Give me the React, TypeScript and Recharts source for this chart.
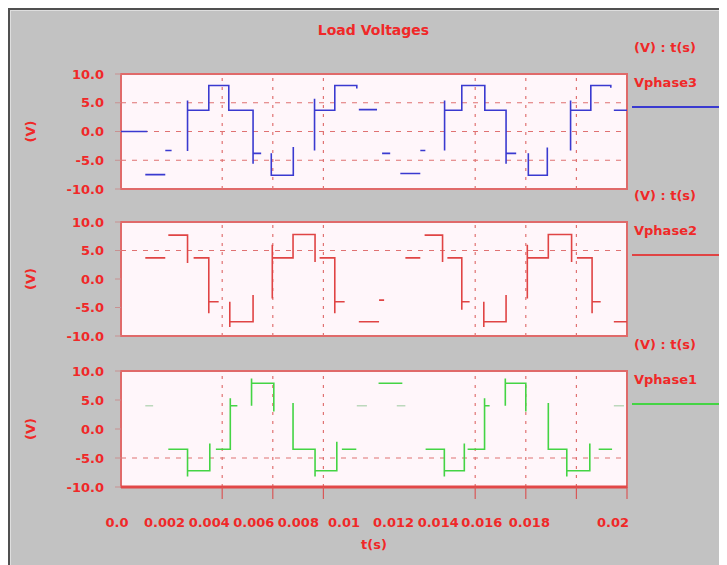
import React from 'react';
import {
  LineChart,
  Line,
  XAxis,
  YAxis,
  CartesianGrid,
  ReferenceLine,
  ReferenceArea,
  Legend
} from 'recharts';

// Each run is a stepped piece of the waveform: [time in ms, volts] at every level change.
// Runs are drawn separately, so the gaps between them stay open.
type Run = [number, number][];

const vphase3Runs: Run[] = [
  [[0, 0], [1.04, 0]],
  [[0.96, -7.5], [1.75, -7.5]],
  [[1.75, -3.3], [2.0, -3.3]],
  [[2.63, -3.4], [2.63, 5.4], [2.63, 3.7], [3.47, 8.0], [4.26, 3.7], [5.22, -5.6], [5.22, -3.8], [5.54, -3.8]],
  [[5.94, -3.8], [5.94, -7.6], [6.81, -2.7]],
  [[7.65, -3.3], [7.65, 5.7], [7.65, 3.7], [8.45, 8.0], [9.32, 7.5]],
  [[9.4, 3.8], [10.12, 3.8]],
  [[10.32, -3.8], [10.64, -3.8]],
  [[11.04, -7.3], [11.83, -7.3]],
  [[11.83, -3.3], [12.03, -3.3]],
  [[12.79, -3.3], [12.79, 5.4], [12.79, 3.7], [13.47, 8.0], [14.38, 3.7], [15.22, -5.6], [15.22, -3.8], [15.62, -3.8]],
  [[16.1, -3.8], [16.1, -7.6], [16.85, -2.8]],
  [[17.77, -3.3], [17.77, 5.4], [17.77, 3.7], [18.57, 8.0], [19.36, 7.6]],
  [[19.48, 3.7], [20, 3.7]]
];

const vphase2Runs: Run[] = [
  [[0.96, 3.7], [1.75, 3.7]],
  [[1.87, 7.7], [2.63, 2.8]],
  [[2.87, 3.7], [3.47, -6.0], [3.47, -4.0], [3.86, -4.0]],
  [[4.3, -4.0], [4.3, -8.4], [4.3, -7.5], [5.22, -2.8]],
  [[5.98, -3.4], [5.98, 6.0], [5.98, 3.7], [6.8, 7.8], [7.67, 3.0]],
  [[7.85, 3.7], [8.45, -6.0], [8.45, -4.0], [8.84, -4.0]],
  [[9.4, -7.5], [10.2, -7.5]],
  [[10.2, -3.7], [10.4, -3.7]],
  [[11.24, 3.7], [11.83, 3.7]],
  [[12.0, 7.7], [12.71, 3.0]],
  [[12.9, 3.7], [13.47, -5.4], [13.47, -4.0], [13.78, -4.0]],
  [[14.34, -4.0], [14.34, -8.4], [14.34, -7.5], [15.22, -2.8]],
  [[16.06, -3.4], [16.06, 6.0], [16.06, 3.7], [16.89, 7.8], [17.81, 3.0]],
  [[18.02, 3.7], [18.62, -6.0], [18.62, -4.0], [18.96, -4.0]],
  [[19.48, -7.5], [20, -7.5]]
];

const vphase1Runs: Run[] = [
  [[1.87, -3.5], [2.63, -8.2], [2.63, -7.2], [3.51, -2.5]],
  [[3.75, -3.5], [4.32, 5.3], [4.32, 4.0], [4.6, 4.0]],
  [[5.16, 4.0], [5.16, 8.7], [5.16, 7.9], [6.04, 3.0]],
  [[6.8, 4.5], [6.8, -3.5], [7.67, -8.2], [7.67, -7.2], [8.53, -2.2]],
  [[8.73, -3.5], [9.3, -3.5]],
  [[10.18, 7.9], [11.12, 7.9]],
  [[12.04, -3.5], [12.78, -8.2], [12.78, -7.2], [13.57, -2.5]],
  [[13.7, -3.5], [14.37, 5.3], [14.37, 4.0], [14.57, 4.0]],
  [[15.19, 4.0], [15.19, 8.7], [15.19, 7.9], [16.0, 3.0]],
  [[16.89, 4.5], [16.89, -3.5], [17.62, -8.2], [17.62, -7.2], [18.53, -2.5]],
  [[18.88, -3.5], [19.41, -3.5]]
];

// short pale pieces on phase 1
const vphase1Faint: Run[] = [
  [[0.96, 4.0], [1.27, 4.0]],
  [[9.32, 4.0], [9.72, 4.0]],
  [[10.9, 4.0], [11.24, 4.0]],
  [[19.48, 4.0], [19.88, 4.0]]
];

const voltTicks = [-10, -5, 0, 5, 10];
const timeTicks = [0, 0.002, 0.004, 0.006, 0.008, 0.01, 0.012, 0.014, 0.016, 0.018, 0.02];
const timeTickLabels = ['0.0', '0.002', '0.004', '0.006', '0.008', '0.01', '0.012', '0.014', '0.016', '0.018', '0.02'];
const timeGrid = [0.004, 0.006, 0.008, 0.014, 0.016, 0.018];
const timeTickMarks = [...timeGrid, 0.02];
// the time labels sit packed to the left of their ticks, the last one under the right edge
const timeLabelShift = [-4, -7, -13, -19, -25, -30, -31, -37, -44, -47, -14];

const FONT = '"DejaVu Sans", sans-serif';
const TEXT_RED = '#f02828';
const BORDER = '#e06a6a';
const GRID = '#e07272';
const PLOT_BG = '#fff6fa';
const CHART_W = 719;
const PLOT_LEFT = 111;
const PLOT_RIGHT = 617;

const toRows = (runs: Run[]) =>
  runs.flatMap(run => [
    ...run.map(([ms, v]) => ({ t: ms / 1000, v })),
    { t: run[run.length - 1][0] / 1000, v: null as number | null }
  ]);

const TimeTick = ({ x, y, payload }: { x: number; y: number; payload: { value: number } }) => {
  const value = payload.value;
  const i = timeTicks.findIndex(v => Math.abs(v - value) < 1e-9);
  const marked = timeTickMarks.some(v => Math.abs(v - value) < 1e-9);
  return (
    <g>
      {marked && <line x1={x} x2={x} y1={y} y2={y + 12} stroke="#d85858" strokeWidth={1.2} />}
      <text
        x={x + (timeLabelShift[i] ?? 0)}
        y={y + 40}
        textAnchor="middle"
        fill={TEXT_RED}
        fontFamily={FONT}
        fontWeight="bold"
        fontSize={13}
      >
        {timeTickLabels[i]}
      </text>
    </g>
  );
};

const LegendBox = ({ name, color }: { name: string; color: string }) => (
  <div style={{ fontFamily: FONT, fontWeight: 'bold', fontSize: 13, color: TEXT_RED, lineHeight: '16px' }}>
    <div style={{ paddingLeft: 2, height: 16 }}>(V) : t(s)</div>
    <div style={{ paddingLeft: 2, marginTop: 19, height: 16 }}>{name}</div>
    <div style={{ marginTop: 15, width: 92, height: 2, background: color }} />
  </div>
);

interface PanelProps {
  top: number;
  plotHeight: number;
  runs: Run[];
  faint?: Run[];
  color: string;
  name: string;
  hGrid: number[];
  showTime?: boolean;
}

function Panel({ top, plotHeight, runs, faint, color, name, hGrid, showTime }: PanelProps) {
  const marginTop = 40;
  const axisH = showTime ? 70 : 0;
  const bottom = showTime ? 0 : 10;
  const height = marginTop + plotHeight + axisH + bottom;
  return (
    <div style={{ position: 'absolute', left: 0, top }}>
      <LineChart
        width={CHART_W}
        height={height}
        margin={{ top: marginTop, right: CHART_W - PLOT_RIGHT, bottom, left: 10 }}
      >
        <CartesianGrid horizontal={false} vertical={false} fill={PLOT_BG} fillOpacity={1} />
        <XAxis
          dataKey="t"
          type="number"
          domain={[0, 0.02]}
          ticks={timeTicks}
          interval={0}
          hide={!showTime}
          height={axisH}
          tickSize={0}
          tickMargin={0}
          tick={TimeTick}
          axisLine={{ stroke: '#e24848', strokeWidth: 3 }}
          allowDataOverflow
          label={
            showTime
              ? {
                  value: 't(s)',
                  position: 'insideBottom',
                  offset: 8,
                  fill: TEXT_RED,
                  fontFamily: FONT,
                  fontWeight: 'bold',
                  fontSize: 13
                }
              : undefined
          }
        />
        <YAxis
          type="number"
          domain={[-10, 10]}
          ticks={voltTicks}
          interval={0}
          width={PLOT_LEFT - 10}
          tickFormatter={(v: number) => v.toFixed(1)}
          axisLine={false}
          tickSize={6}
          tickMargin={11}
          tickLine={{ stroke: '#c89090' }}
          tick={{ fill: TEXT_RED, fontFamily: FONT, fontWeight: 'bold', fontSize: 13 }}
          label={{
            value: '(V)',
            angle: -90,
            position: 'insideLeft',
            offset: 10,
            fill: TEXT_RED,
            fontFamily: FONT,
            fontWeight: 'bold',
            fontSize: 13,
            style: { textAnchor: 'middle' }
          }}
        />
        {hGrid.map(v => (
          <ReferenceLine key={`h${v}`} y={v} stroke={GRID} strokeDasharray="5 6" strokeWidth={1.2} />
        ))}
        {timeGrid.map(t => (
          <ReferenceLine key={`v${t}`} x={t} stroke={GRID} strokeDasharray="3 6" strokeWidth={1.2} />
        ))}
        <ReferenceArea x1={0} x2={0.02} y1={-10} y2={10} fill="none" fillOpacity={0} stroke={BORDER} strokeWidth={2} />
        {faint && (
          <Line
            data={toRows(faint)}
            dataKey="v"
            type="stepAfter"
            stroke="#bcd8bc"
            strokeWidth={1.6}
            dot={false}
            legendType="none"
            isAnimationActive={false}
          />
        )}
        <Line
          data={toRows(runs)}
          dataKey="v"
          name={name}
          type="stepAfter"
          stroke={color}
          strokeWidth={1.6}
          dot={false}
          connectNulls={false}
          isAnimationActive={false}
        />
        <Legend
          layout="vertical"
          align="center"
          verticalAlign="middle"
          wrapperStyle={{ left: 622, top: 6, width: 97 }}
          content={() => <LegendBox name={name} color={color} />}
        />
      </LineChart>
    </div>
  );
}

export default function App() {
  return (
    <div
      style={{
        position: 'relative',
        width: 717,
        height: 555,
        background: '#c2c2c2',
        borderTop: '2px solid #505050',
        borderLeft: '2px solid #505050',
        boxShadow: 'inset 1px 1px 0 #dedede',
        overflow: 'hidden'
      }}
    >
      <div
        style={{
          position: 'absolute',
          top: 12,
          left: 10,
          width: 707,
          textAlign: 'center',
          fontFamily: FONT,
          fontWeight: 'bold',
          fontSize: 14,
          color: TEXT_RED
        }}
      >
        Load Voltages
      </div>
      <Panel top={24} plotHeight={115} runs={vphase3Runs} color="#3a3ad0" name="Vphase3" hGrid={[5, 0, -5]} />
      <Panel top={172} plotHeight={114} runs={vphase2Runs} color="#e04444" name="Vphase2" hGrid={[5]} />
      <Panel
        top={321}
        plotHeight={116}
        runs={vphase1Runs}
        faint={vphase1Faint}
        color="#44d444"
        name="Vphase1"
        hGrid={[-5]}
        showTime
      />
    </div>
  );
}
